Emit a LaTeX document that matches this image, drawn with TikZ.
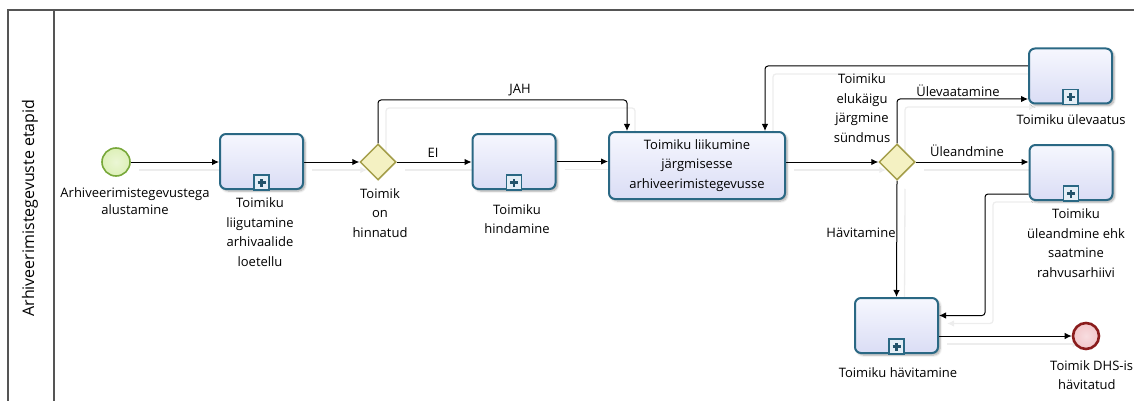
\documentclass[tikz,border=0pt]{standalone}
\usepackage{fontspec}
\setmainfont{Open Sans}
\usetikzlibrary{shapes.geometric,arrows.meta,shadows.blur,backgrounds}

\definecolor{poolline}{HTML}{555555}
\definecolor{taskline}{HTML}{2A6884}
\definecolor{tasktop}{HTML}{F6F7FE}
\definecolor{taskbot}{HTML}{DADDF5}
\definecolor{markfill}{HTML}{E4EEF6}
\definecolor{gwfill}{HTML}{F4F1C2}
\definecolor{gwline}{HTML}{A49E4A}
\definecolor{startfill}{HTML}{DDF0B8}
\definecolor{startline}{HTML}{78A83A}
\definecolor{endfill}{HTML}{F2C6CA}
\definecolor{endline}{HTML}{8A1C1C}

\tikzset{
  txt/.style={font=\fontsize{13}{19.5}\selectfont, align=center, inner sep=0pt},
  task/.style={rectangle, rounded corners=6pt, draw=taskline, line width=2pt,
    top color=tasktop, bottom color=taskbot, minimum width=83pt, minimum height=55pt,
    blur shadow={shadow xshift=2pt, shadow yshift=-2pt, shadow blur steps=6, shadow opacity=35}},
  bigtask/.style={task, minimum width=176pt, minimum height=67pt, txt},
  gateway/.style={diamond, aspect=1, draw=gwline, fill=gwfill, line width=1.5pt,
    minimum width=36pt, minimum height=36pt, inner sep=0pt},
  startev/.style={circle, draw=startline, line width=1.6pt, inner color=white!40!startfill,
    outer color=startfill, minimum size=28pt, inner sep=0pt},
  endev/.style={circle, draw=endline, line width=2.6pt, inner color=white!40!endfill,
    outer color=endfill, minimum size=26pt, inner sep=0pt},
  flow/.style={draw=black, line width=1pt, rounded corners=3pt,
    -{Latex[length=7pt,width=6.5pt]},
    preaction={draw=black!7, line width=1.3pt, transform canvas={shift={(8pt,-8pt)}}}},
}

\begin{document}
\begin{tikzpicture}[x=1pt,y=-1pt]
\useasboundingbox (0,0) rectangle (1134,401);

% pool and lane header
\draw[poolline, line width=1.3pt] (1134,10) -- (8,10) -- (8,401);
\draw[poolline, line width=1.3pt] (54,10) -- (54,401);
\node[txt, font=\fontsize{16}{18}\selectfont, rotate=90] (lane) at (30,208) {Arhiveerimistegevuste etapid};

% events, gateways and tasks
\node[startev] (start) at (116,162) {};
\node[task] (t1) at (261.5,161.5) {};
\node[gateway] (gw1) at (378,162) {};
\node[task] (t2) at (514,161.5) {};
\node[bigtask] (t3) at (697,165.5) {Toimiku liikumine\\järgmisesse\\arhiveerimistegevusse};
\node[gateway] (gw2) at (897,162) {};
\node[task] (t4) at (1070.5,76) {};
\node[task] (t5) at (1071,172.5) {};
\node[task] (t6) at (896.5,325.5) {};
\node[endev] (end) at (1086,336) {};

% collapsed sub-process markers
\foreach \t in {t1,t2,t4,t5,t6}{
  \draw[taskline, line width=1.5pt, fill=markfill]
    ([xshift=-7.5pt]\t.south) rectangle ([xshift=7.5pt,yshift=15pt]\t.south);
  \draw[taskline!80!black, line width=2.4pt]
    ([yshift=7.5pt,xshift=-4pt]\t.south) -- ([yshift=7.5pt,xshift=4pt]\t.south)
    ([yshift=3.5pt]\t.south) -- ([yshift=11.5pt]\t.south);
}

% labels
\node[txt, font=\fontsize{13}{17}\selectfont] (lstart) at (135,201) {Arhiveerimistegevustega\\alustamine};
\node[txt] (lt1) at (260,232) {Toimiku\\liigutamine\\arhivaalide\\loetellu};
\node[txt] (lgw1) at (380,213) {Toimik\\on\\hinnatud};
\node[txt] (lt2) at (517,219) {Toimiku\\hindamine};
\node[txt] (lgw2) at (862,108) {Toimiku\\elukäigu\\järgmine\\sündmus};
\node[txt] (lt4) at (1071,120) {Toimiku ülevaatus};
\node[txt] (lt5) at (1076,243) {Toimiku\\üleandmine ehk\\saatmine\\rahvusarhiivi};
\node[txt] (lt6) at (898,373) {Toimiku hävitamine};
\node[txt, align=left, anchor=north west] (lend) at (1050,360) {Toimik DHS-is\\\hspace*{8pt}hävitatud};

\node[txt] (ljah) at (520,90) {JAH};
\node[txt] (lei) at (433,153) {EI};
\node[txt] (lrev) at (958,91) {Ülevaatamine};
\node[txt] (lhand) at (967,151) {Üleandmine};
\node[txt] (ldest) at (861,233) {Hävitamine};

% sequence flows
\coordinate (jah) at (627,100);
\coordinate (loop) at (765,66);
\coordinate (ret) at (985,194);
\coordinate (rev) at (897,99);
\begin{scope}[on background layer]
\draw[flow] (start.east) -- (start.east -| t1.west);
\draw[flow] (t1.east |- gw1) -- (gw1.west);
\draw[flow] (gw1.east) -- (gw1.east -| t2.west);
\draw[flow] (gw1.north) |- (jah) -- (jah |- t3.north);
\draw[flow] (t2.east) -- (t2.east -| t3.west);
\draw[flow] (t3.east |- gw2) -- (gw2.west);
\draw[flow] (gw2.north) |- (rev -| t4.west);
\draw[flow] (gw2.east) -- (gw2.east -| t5.west);
\draw[flow] (gw2.south) -- (t6.north);
\draw[flow] (t4.west |- loop) -- (loop) -- (loop |- t3.north);
\draw[flow] (t5.west |- ret) -- (ret) |- ([yshift=10pt]t6.east);
\draw[flow] (t6.east |- end) -- (end.west);
\end{scope}
\end{tikzpicture}
\end{document}
